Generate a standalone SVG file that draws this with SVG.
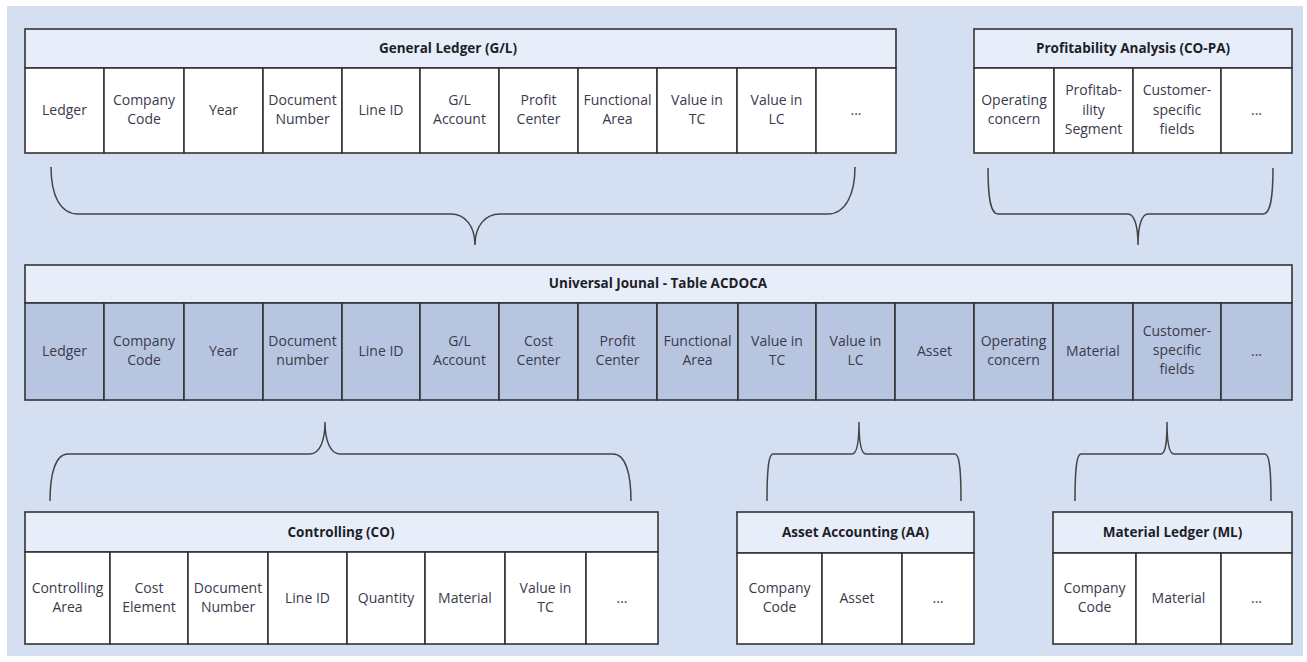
<svg xmlns="http://www.w3.org/2000/svg" width="1307" height="662" viewBox="0 0 1307 662">
<style>
.bg{fill:#d5dff2}
.hd{fill:#e8eef9;stroke:#333;stroke-width:1.6}
.cw{fill:#ffffff;stroke:#333;stroke-width:1.6}
.cb{fill:#b8c5e0;stroke:#333;stroke-width:1.6}
.t{font-family:"Open Sans","Noto Sans",sans-serif;font-size:14px;fill:#3a3a4c;text-anchor:middle}
.h{font-family:"Open Sans","Noto Sans",sans-serif;font-size:13.5px;font-weight:bold;fill:#1e1e28;text-anchor:middle}
.br{fill:none;stroke:#444;stroke-width:1.5}
</style>
<rect class="bg" x="7" y="6" width="1296" height="650"/>

<g id="gl">
<rect class="hd" x="25" y="29" width="871" height="39"/>
<text class="h" x="448" y="53">General Ledger (G/L)</text>
<rect class="cw" x="25" y="68" width="79" height="85"/>
<rect class="cw" x="104" y="68" width="80" height="85"/>
<rect class="cw" x="184" y="68" width="79" height="85"/>
<rect class="cw" x="263" y="68" width="79" height="85"/>
<rect class="cw" x="342" y="68" width="78" height="85"/>
<rect class="cw" x="420" y="68" width="79" height="85"/>
<rect class="cw" x="499" y="68" width="79" height="85"/>
<rect class="cw" x="578" y="68" width="79" height="85"/>
<rect class="cw" x="657" y="68" width="80" height="85"/>
<rect class="cw" x="737" y="68" width="79" height="85"/>
<rect class="cw" x="816" y="68" width="80" height="85"/>
<text class="t" x="64.5" y="115">Ledger</text>
<text class="t" x="144" y="105">Company</text><text class="t" x="144" y="124">Code</text>
<text class="t" x="223.5" y="115">Year</text>
<text class="t" x="302.5" y="105">Document</text><text class="t" x="302.5" y="124">Number</text>
<text class="t" x="381" y="115">Line ID</text>
<text class="t" x="459.5" y="105">G/L</text><text class="t" x="459.5" y="124">Account</text>
<text class="t" x="538.5" y="105">Profit</text><text class="t" x="538.5" y="124">Center</text>
<text class="t" x="617.5" y="105">Functional</text><text class="t" x="617.5" y="124">Area</text>
<text class="t" x="697" y="105">Value in</text><text class="t" x="697" y="124">TC</text>
<text class="t" x="776.5" y="105">Value in</text><text class="t" x="776.5" y="124">LC</text>
<text class="t" x="856" y="115">...</text>
</g>

<g id="copa">
<rect class="hd" x="974" y="29" width="318" height="39"/>
<text class="h" x="1133" y="53">Profitability Analysis (CO-PA)</text>
<rect class="cw" x="974" y="68" width="80" height="85"/>
<rect class="cw" x="1054" y="68" width="79" height="85"/>
<rect class="cw" x="1133" y="68" width="88" height="85"/>
<rect class="cw" x="1221" y="68" width="71" height="85"/>
<text class="t" x="1014" y="105">Operating</text><text class="t" x="1014" y="124">concern</text>
<text class="t" x="1093.5" y="95">Profitab-</text><text class="t" x="1093.5" y="115">ility</text><text class="t" x="1093.5" y="134">Segment</text>
<text class="t" x="1177" y="95">Customer-</text><text class="t" x="1177" y="115">specific</text><text class="t" x="1177" y="134">fields</text>
<text class="t" x="1256.5" y="115">...</text>
</g>

<g id="acdoca">
<rect class="hd" x="25" y="265" width="1267" height="38"/>
<text class="h" x="658" y="288">Universal Jounal - Table ACDOCA</text>
<rect class="cb" x="25" y="303" width="79" height="97"/>
<rect class="cb" x="104" y="303" width="80" height="97"/>
<rect class="cb" x="184" y="303" width="79" height="97"/>
<rect class="cb" x="263" y="303" width="79" height="97"/>
<rect class="cb" x="342" y="303" width="78" height="97"/>
<rect class="cb" x="420" y="303" width="79" height="97"/>
<rect class="cb" x="499" y="303" width="79" height="97"/>
<rect class="cb" x="578" y="303" width="79" height="97"/>
<rect class="cb" x="657" y="303" width="81" height="97"/>
<rect class="cb" x="738" y="303" width="78" height="97"/>
<rect class="cb" x="816" y="303" width="79" height="97"/>
<rect class="cb" x="895" y="303" width="79" height="97"/>
<rect class="cb" x="974" y="303" width="79" height="97"/>
<rect class="cb" x="1053" y="303" width="80" height="97"/>
<rect class="cb" x="1133" y="303" width="88" height="97"/>
<rect class="cb" x="1221" y="303" width="71" height="97"/>
<text class="t" x="64.5" y="356">Ledger</text>
<text class="t" x="144" y="346">Company</text><text class="t" x="144" y="365">Code</text>
<text class="t" x="223.5" y="356">Year</text>
<text class="t" x="302.5" y="346">Document</text><text class="t" x="302.5" y="365">number</text>
<text class="t" x="381" y="356">Line ID</text>
<text class="t" x="459.5" y="346">G/L</text><text class="t" x="459.5" y="365">Account</text>
<text class="t" x="538.5" y="346">Cost</text><text class="t" x="538.5" y="365">Center</text>
<text class="t" x="617.5" y="346">Profit</text><text class="t" x="617.5" y="365">Center</text>
<text class="t" x="697.5" y="346">Functional</text><text class="t" x="697.5" y="365">Area</text>
<text class="t" x="777" y="346">Value in</text><text class="t" x="777" y="365">TC</text>
<text class="t" x="855.5" y="346">Value in</text><text class="t" x="855.5" y="365">LC</text>
<text class="t" x="934.5" y="356">Asset</text>
<text class="t" x="1013.5" y="346">Operating</text><text class="t" x="1013.5" y="365">concern</text>
<text class="t" x="1093" y="356">Material</text>
<text class="t" x="1177" y="336">Customer-</text><text class="t" x="1177" y="355">specific</text><text class="t" x="1177" y="374">fields</text>
<text class="t" x="1256.5" y="356">...</text>
</g>

<g id="co">
<rect class="hd" x="25" y="512" width="633" height="40"/>
<text class="h" x="341" y="537">Controlling (CO)</text>
<rect class="cw" x="25" y="552" width="85" height="92"/>
<rect class="cw" x="110" y="552" width="78" height="92"/>
<rect class="cw" x="188" y="552" width="80" height="92"/>
<rect class="cw" x="268" y="552" width="79" height="92"/>
<rect class="cw" x="347" y="552" width="78" height="92"/>
<rect class="cw" x="425" y="552" width="80" height="92"/>
<rect class="cw" x="505" y="552" width="81" height="92"/>
<rect class="cw" x="586" y="552" width="72" height="92"/>
<text class="t" x="67.5" y="593">Controlling</text><text class="t" x="67.5" y="612">Area</text>
<text class="t" x="149" y="593">Cost</text><text class="t" x="149" y="612">Element</text>
<text class="t" x="228" y="593">Document</text><text class="t" x="228" y="612">Number</text>
<text class="t" x="307.5" y="603">Line ID</text>
<text class="t" x="386" y="603">Quantity</text>
<text class="t" x="465" y="603">Material</text>
<text class="t" x="545.5" y="593">Value in</text><text class="t" x="545.5" y="612">TC</text>
<text class="t" x="622" y="603">...</text>
</g>

<g id="aa">
<rect class="hd" x="737" y="512" width="237" height="41"/>
<text class="h" x="855.5" y="537">Asset Accounting (AA)</text>
<rect class="cw" x="737" y="553" width="85" height="91"/>
<rect class="cw" x="822" y="553" width="80" height="91"/>
<rect class="cw" x="902" y="553" width="72" height="91"/>
<text class="t" x="779.5" y="593">Company</text><text class="t" x="779.5" y="612">Code</text>
<text class="t" x="857" y="603">Asset</text>
<text class="t" x="938" y="603">...</text>
</g>

<g id="ml">
<rect class="hd" x="1053" y="512" width="239" height="41"/>
<text class="h" x="1172.5" y="537">Material Ledger (ML)</text>
<rect class="cw" x="1053" y="553" width="83" height="91"/>
<rect class="cw" x="1136" y="553" width="85" height="91"/>
<rect class="cw" x="1221" y="553" width="71" height="91"/>
<text class="t" x="1094.5" y="593">Company</text><text class="t" x="1094.5" y="612">Code</text>
<text class="t" x="1178.5" y="603">Material</text>
<text class="t" x="1256.5" y="603">...</text>
</g>

<g id="connectors">
<path class="br" d="M51,167 C51,195 60,214 78,214 L451,214 C465,214 475,226 475,245 C475,226 485,214 500,214 L828,214 C845,214 855,195 855,167"/>
<path class="br" d="M988,168 C988,200 991,214 998,214 L1128,214 C1134,214 1138,225 1138,245 C1138,225 1142,214 1148,214 L1263,214 C1270,214 1273,200 1273,168"/>
<path class="br" d="M50,501 C50,475 55,454 68,454 L310,454 C320,454 325,440 325,422 C325,440 330,454 340,454 L613,454 C626,454 631,475 631,501"/>
<path class="br" d="M767,501 C767,475 768,454 773,454 L852,454 C857,454 859,440 859,422 C859,440 861,454 866,454 L955,454 C960,454 961,475 961,501"/>
<path class="br" d="M1075,501 C1075,475 1076,454 1081,454 L1161,454 C1166,454 1167,440 1167,422 C1167,440 1169,454 1174,454 L1265,454 C1270,454 1271,475 1271,501"/>
</g>
</svg>
